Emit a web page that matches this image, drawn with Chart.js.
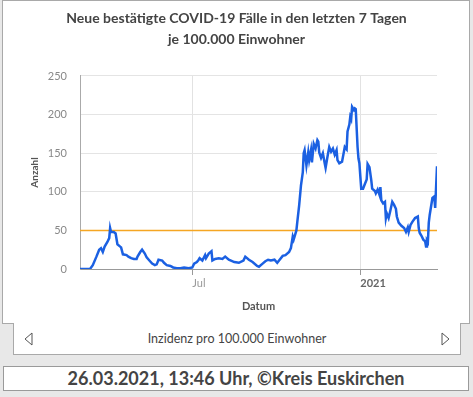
<!DOCTYPE html>
<html>
<head>
<meta charset="utf-8">
<script src="https://cdn.jsdelivr.net/npm/chart.js@4"></script>
<style>
  html, body { margin: 0; padding: 0; }
  body { width: 473px; height: 397px; background: #e8e8e8; position: relative; overflow: hidden; font-family: Lato, sans-serif; }
  #panel { position: absolute; left: 2px; top: 0; width: 468px; height: 324px; box-sizing: border-box; background: #fff; border: 1px solid #a9a9a9; }
  #tab { position: absolute; left: 13px; top: 323px; width: 448px; height: 32px; box-sizing: border-box; background: #fff; border: 1px solid #a9a9a9; border-top: none; }
  #tab .label { position: absolute; left: 0; right: 0; top: 8px; text-align: center; font-size: 12.5px; color: #444; }
  #tab svg { position: absolute; top: 9px; }
  #footer { position: absolute; left: 3px; top: 366px; width: 466px; height: 25px; box-sizing: border-box; background: #fff; border: 1px solid #9a9a9a; text-align: center; font-size: 18px; font-weight: bold; color: #444; line-height: 23px; }
  #myChart { position: absolute; left: 0; top: 0; }
</style>
</head>
<body>
<div id="panel"></div>
<div id="tab">
  <svg style="left:10px" width="10" height="14"><polygon points="8,1 1,7 8,13" fill="none" stroke="#555" stroke-width="1"/></svg>
  <div class="label">Inzidenz pro 100.000 Einwohner</div>
  <svg style="left:426px" width="10" height="14"><polygon points="2,1 9,7 2,13" fill="none" stroke="#555" stroke-width="1"/></svg>
</div>
<div id="footer">26.03.2021, 13:46 Uhr, ©Kreis Euskirchen</div>
<canvas id="myChart" width="473" height="324"></canvas>
<script>
// days counted from 01.01.2020 (day 182 = 1 Jul 2020, day 366 = 1 Jan 2021)
const days = [59, 70, 73, 77, 80, 82, 84, 86, 89, 91, 92, 93, 96, 98, 100, 102, 104, 106, 110, 112,
  115, 118, 121, 122, 125, 127, 130, 132, 135, 138, 141, 143, 145, 149, 151, 154, 158, 161, 165, 169,
  173, 178, 182, 184, 187, 189, 190, 193, 196, 197, 200, 203, 204, 207, 211, 215, 218, 222, 228, 233,
  238, 240, 244, 248, 253, 255, 259, 262, 265, 268, 272, 275, 277, 281, 284, 288, 290, 292, 293, 296,
  297, 299, 301, 303, 304, 305, 307, 309, 310, 312, 313, 315, 317, 319, 320, 321, 323, 325, 327, 328,
  330, 332, 334, 336, 338, 340, 341, 343, 346, 349, 351, 352, 354, 355, 356, 357, 359, 360, 361, 363,
  364, 365, 367, 369, 371, 373, 374, 376, 378, 379, 382, 383, 385, 387, 388, 389, 391, 393, 394, 395,
  397, 399, 401, 403, 405, 406, 408, 411, 414, 416, 418, 419, 421, 423, 426, 429, 430, 431, 433, 435,
  437, 438, 439, 440, 441, 442, 445, 447, 448, 450];
const incidence = [0, 0, 5, 16, 25, 27, 22, 29, 35, 40, 53, 48, 48, 46, 32, 30, 28, 19, 18, 16,
  14, 13, 13, 16, 22, 25, 20, 15, 11, 7, 5, 6, 12, 11, 8, 5, 4, 2, 1, 1,
  2, 1, 2, 7, 9, 12, 14, 11, 18, 14, 20, 23, 11, 13, 14, 13, 16, 12, 9, 8,
  11, 16, 12, 9, 4, 3, 7, 10, 12, 11, 12, 8, 11, 17, 18, 22, 27, 42, 38, 50,
  61, 82, 108, 125, 150, 154, 134, 151, 141, 154, 138, 162, 156, 167, 165, 151, 144, 150, 137, 131,
  145, 158, 152, 156, 148, 154, 141, 137, 139, 158, 155, 178, 187, 197, 194, 210, 206, 208, 207, 158,
  143, 137, 104, 104, 110, 116, 136, 132, 115, 104, 101, 98, 103, 96, 106, 89, 85, 87, 66, 72,
  66, 76, 87, 83, 78, 68, 60, 56, 53, 48, 54, 48, 57, 61, 66, 68, 53, 47, 43, 38,
  36, 29, 37, 35, 60, 70, 92, 94, 79, 133];
const threshold = 50;
const xTicks = [182, 366];
const xTickLabels = ['Jul', '2021'];
const yTicks = [0, 50, 100, 150, 200, 250];

const ctx = document.getElementById('myChart');

new Chart(ctx, {
  type: 'line',
  data: {
    datasets: [{
      label: 'Inzidenz',
      data: days.map((d, i) => ({ x: d, y: incidence[i] })),
      borderColor: '#1b60e2',
      borderWidth: 2.5,
      pointRadius: 0,
      tension: 0,
      order: 1
    }, {
      label: 'Grenzwert',
      data: [{ x: days[0], y: threshold }, { x: days[days.length - 1], y: threshold }],
      borderColor: '#f5a623',
      borderWidth: 1.5,
      pointRadius: 0,
      order: 2
    }]
  },
  options: {
    responsive: false,
    animation: false,
    layout: { padding: 0 },
    plugins: {
      legend: { display: false },
      tooltip: { enabled: false },
      title: {
        display: true,
        text: ['Neue bestätigte COVID-19 Fälle in den letzten 7 Tagen', 'je 100.000 Einwohner'],
        color: '#444',
        font: { family: 'Lato', size: 14, weight: 'bold', lineHeight: 1.57 },
        padding: { top: 7, bottom: 25 }
      }
    },
    scales: {
      x: {
        type: 'linear',
        min: days[0],
        max: days[days.length - 1],
        afterBuildTicks: (s) => { s.ticks = xTicks.map(v => ({ value: v })); },
        afterFit: (s) => { s.height = 55; },
        border: { color: '#999', width: 1 },
        grid: { color: '#e2e2e2', tickColor: '#999', tickLength: 6 },
        ticks: {
          align: 'start',
          padding: 2,
          maxRotation: 0,
          color: (c) => c.tick && c.tick.value === 366 ? '#666' : '#999',
          font: (c) => ({ family: 'Lato', size: 11, weight: c.tick && c.tick.value === 366 ? 'bold' : 'normal' }),
          callback: (v) => xTickLabels[xTicks.indexOf(v)]
        },
        title: {
          display: true,
          text: 'Datum',
          color: '#555',
          font: { family: 'Lato', size: 11, weight: 'bold' },
          padding: { top: 0, bottom: 11 }
        }
      },
      y: {
        min: 0,
        max: 250,
        afterBuildTicks: (s) => { s.ticks = yTicks.map(v => ({ value: v })); },
        afterFit: (s) => { s.width = 80; },
        border: { color: '#aaa', width: 1 },
        grid: { color: '#e4e4e4', drawTicks: false },
        ticks: { padding: 13, color: '#888', font: { family: 'Lato', size: 11 } },
        title: {
          display: true,
          text: 'Anzahl',
          color: '#555',
          font: { family: 'Lato', size: 10, weight: 'bold' },
          padding: { top: 29, bottom: 0 }
        }
      },
      // empty right margin so the title stays centred on the whole panel
      yRight: {
        position: 'right',
        display: true,
        afterFit: (s) => { s.width = 36; },
        border: { display: false },
        grid: { display: false },
        ticks: { display: false }
      }
    }
  }
});
</script>
</body>
</html>
